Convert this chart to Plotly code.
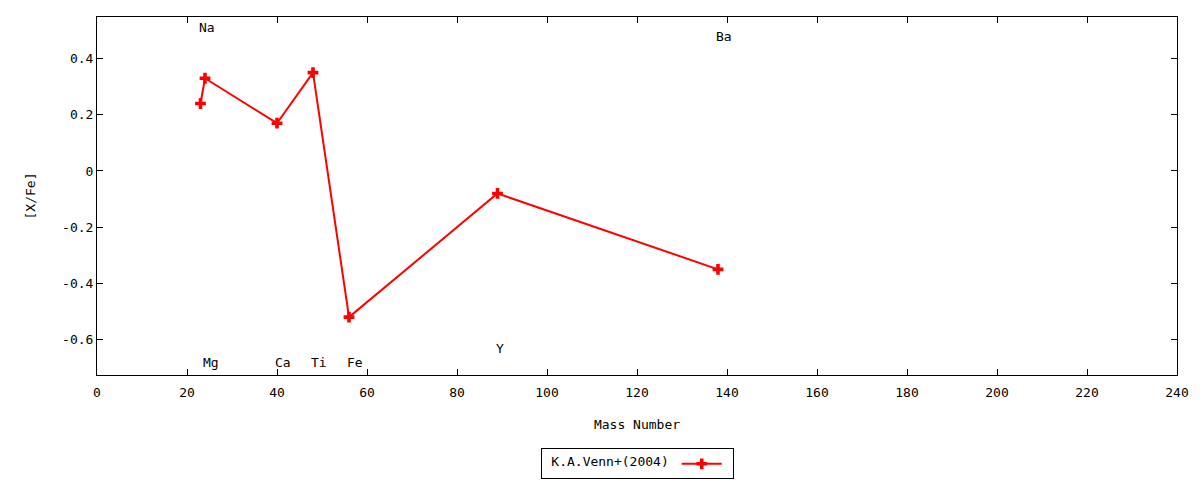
import plotly.graph_objects as go

# abundance pattern, K.A.Venn+(2004)
elements = ['Na', 'Mg', 'Ca', 'Ti', 'Fe', 'Y', 'Ba']
mass_number = [23, 24, 40, 48, 56, 89, 138]
x_fe = [0.24, 0.33, 0.17, 0.35, -0.52, -0.08, -0.35]
label_y = [0.51, -0.68, -0.68, -0.68, -0.68, -0.63, 0.48]

xticks = list(range(0, 241, 20))
yticks = [-0.6, -0.4, -0.2, 0, 0.2, 0.4]
ytick_text = ['-0.6', '-0.4', '-0.2', '0', '0.2', '0.4']

font = 'DejaVu Sans Mono'

fig = go.Figure()
fig.add_trace(go.Scatter(
    x=mass_number, y=x_fe, mode='lines+markers', name='',
    line=dict(color='#ff0000', width=2),
    marker=dict(symbol='cross', size=9, color='#ff0000')))

for el, m, ly in zip(elements, mass_number, label_y):
    fig.add_annotation(x=m, y=ly, text=el, showarrow=False,
                       xanchor='left', xshift=-4, font=dict(family=font, size=13, color='black'))

axis_common = dict(showline=True, linecolor='black', linewidth=1, mirror='allticks',
                   ticks='inside', ticklen=6, tickcolor='black', showgrid=False,
                   zeroline=False, tickfont=dict(family=font, size=13, color='black'))

fig.update_xaxes(range=[0, 240], tickvals=xticks, ticklabelstandoff=5,
                 title=dict(text='Mass Number', standoff=21,
                            font=dict(family=font, size=13, color='black')), **axis_common)
fig.update_yaxes(range=[-0.726, 0.548], tickvals=yticks, ticktext=ytick_text,
                 title=dict(text='[X/Fe]', standoff=23, font=dict(family=font, size=13, color='black')),
                 **axis_common)

# page body adds an 8px offset, so the figure is sized to fit the window
fig.update_layout(
    width=1192, height=472,
    margin=dict(l=89, r=23, t=9, b=105, autoexpand=False),
    plot_bgcolor='white', paper_bgcolor='white',
    font=dict(family=font, size=13, color='black'),
    showlegend=True,
    legend=dict(x=0.5, y=-0.248, xanchor='center', yanchor='middle', orientation='h',
                bordercolor='black', borderwidth=1, bgcolor='white', itemwidth=40,
                title=dict(text='\u00a0K.A.Venn+(2004)', side='left',
                           font=dict(family=font, size=13, color='black')),
                font=dict(family=font, size=12, color='black')))

fig.write_html("out.html")
